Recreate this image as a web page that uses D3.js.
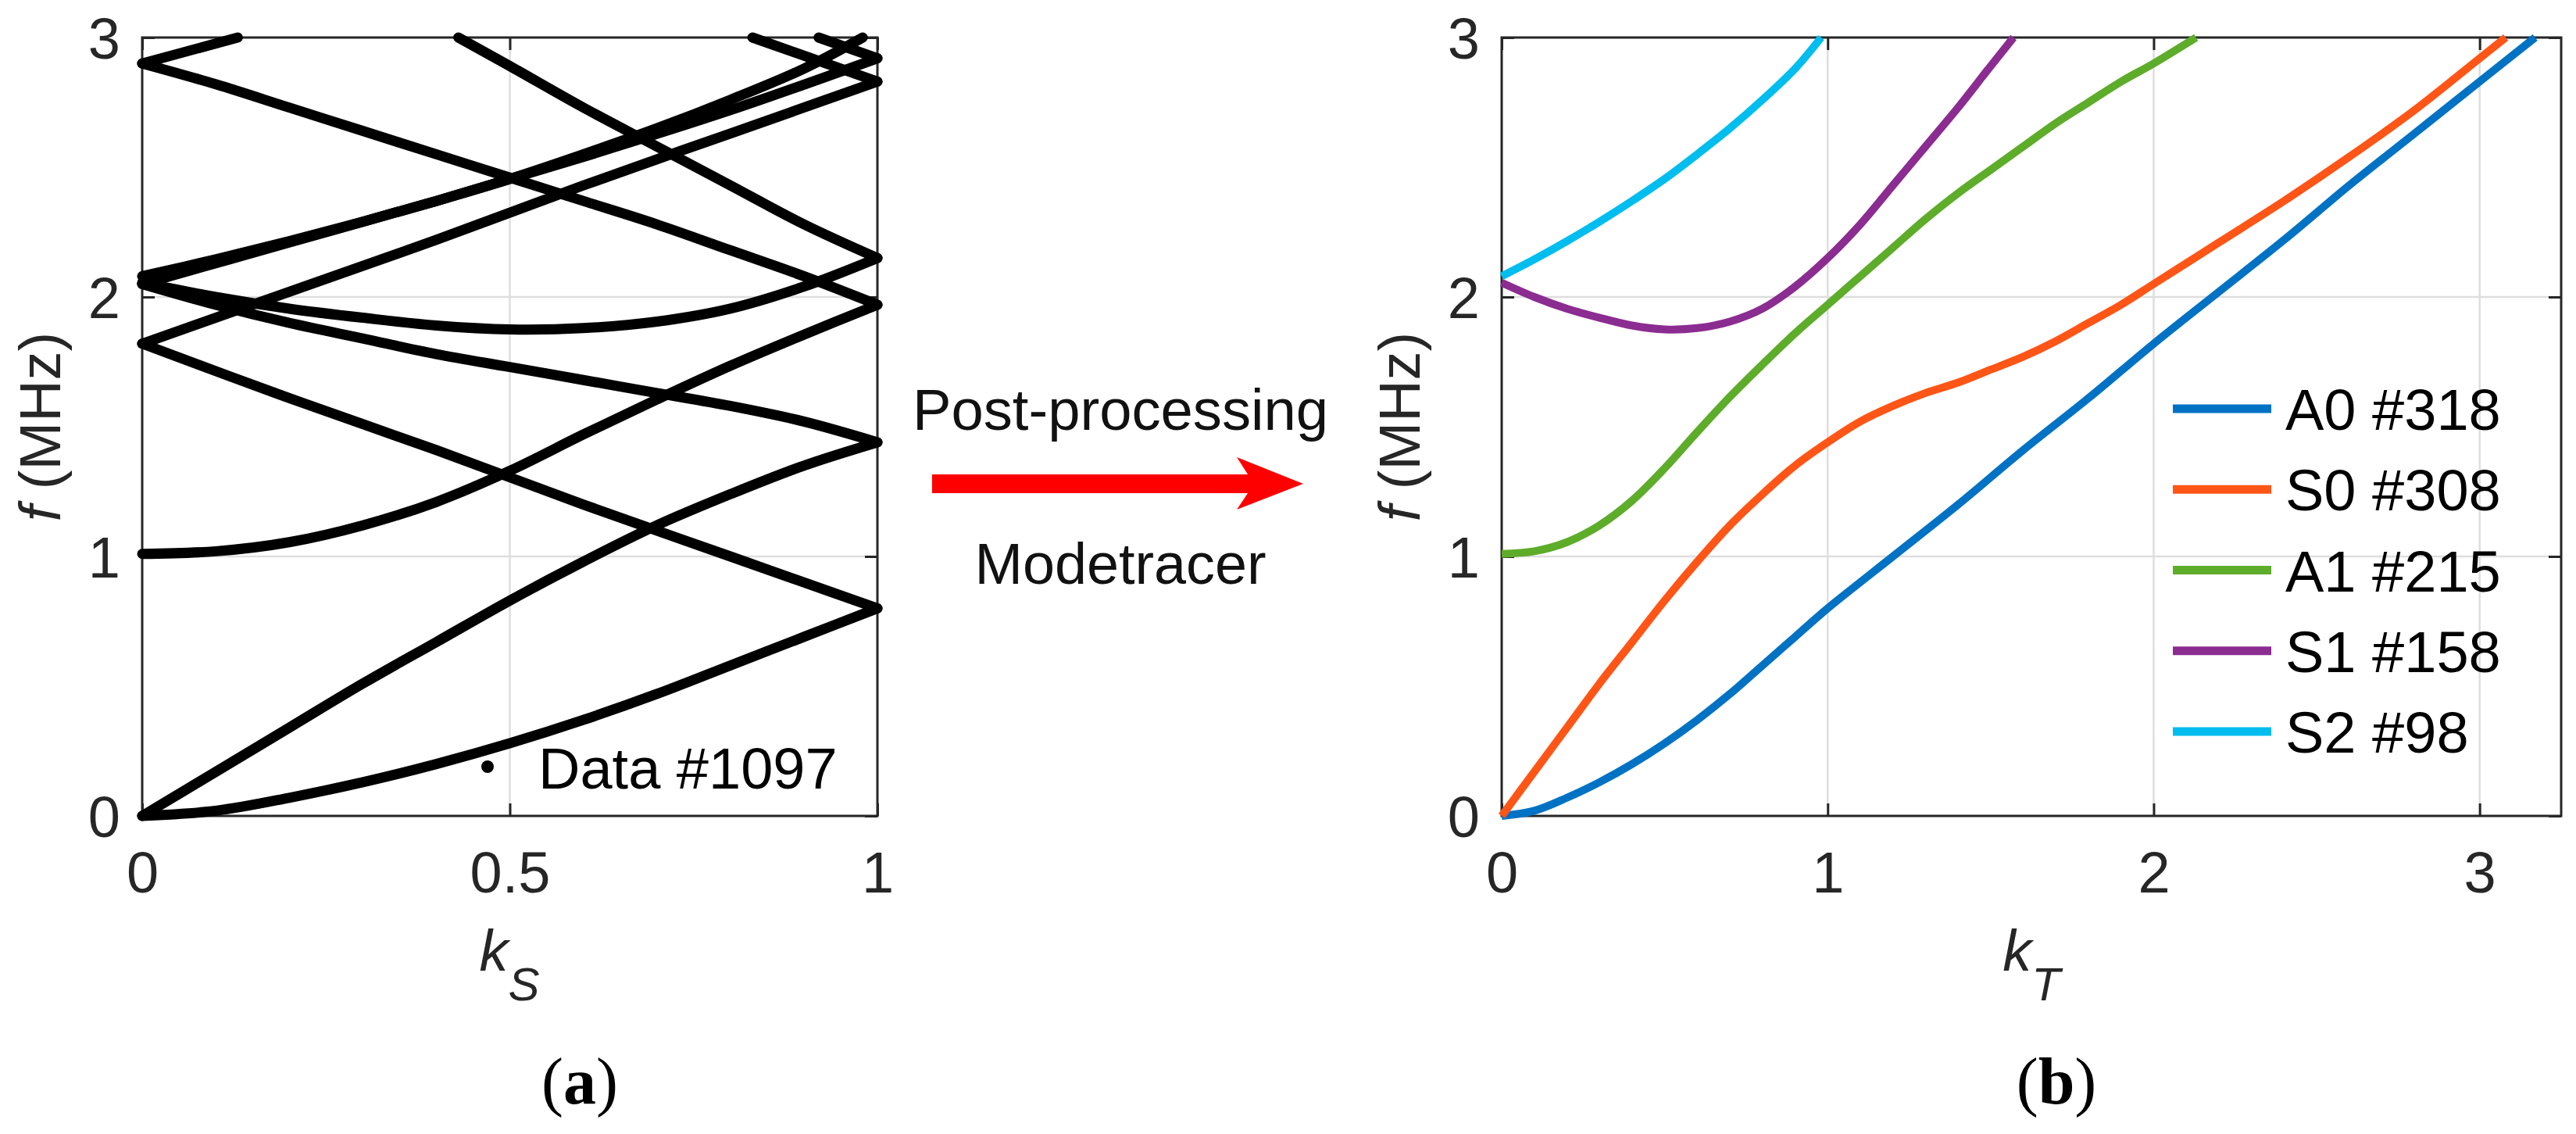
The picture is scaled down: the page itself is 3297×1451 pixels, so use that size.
<!DOCTYPE html>
<html>
<head>
<meta charset="utf-8">
<script src="https://cdn.jsdelivr.net/npm/d3@7"></script>
<style>
  html, body { margin: 0; padding: 0; background: #ffffff; }
  svg { display: block; }
</style>
</head>
<body>
<svg id="chart" width="3297" height="1451"></svg>
<script>
// ---------------- DATA ----------------
// (b) traced modes: wavenumber k_T and frequency f (MHz)
const kA0 = [0, 0.1, 0.2, 0.3, 0.4, 0.5, 0.6, 0.7, 0.8, 0.9, 1.0, 1.2, 1.4, 1.6, 1.8, 2.0, 2.2, 2.4, 2.6, 2.8, 3.0, 3.17];
const fA0 = [0, 0.02, 0.07, 0.13, 0.20, 0.28, 0.37, 0.47, 0.58, 0.69, 0.80, 1.00, 1.20, 1.41, 1.61, 1.82, 2.02, 2.22, 2.43, 2.63, 2.83, 3.0];
const kS0 = [0, 0.1, 0.2, 0.3, 0.4, 0.5, 0.6, 0.7, 0.8, 0.9, 1.0, 1.1, 1.2, 1.3, 1.4, 1.5, 1.6, 1.7, 1.8, 1.9, 2.0, 2.2, 2.4, 2.6, 2.8, 3.0, 3.08];
const fS0 = [0, 0.17, 0.34, 0.51, 0.67, 0.83, 0.98, 1.12, 1.24, 1.35, 1.44, 1.52, 1.58, 1.63, 1.67, 1.72, 1.77, 1.83, 1.90, 1.97, 2.05, 2.21, 2.37, 2.54, 2.72, 2.92, 3.0];
const kA1 = [0, 0.1, 0.2, 0.3, 0.4, 0.5, 0.6, 0.7, 0.8, 0.9, 1.0, 1.1, 1.2, 1.3, 1.4, 1.5, 1.6, 1.7, 1.8, 1.9, 2.0, 2.13];
const fA1 = [1.01, 1.02, 1.055, 1.12, 1.215, 1.34, 1.48, 1.615, 1.74, 1.86, 1.97, 2.08, 2.19, 2.30, 2.40, 2.49, 2.58, 2.67, 2.75, 2.83, 2.90, 3.0];
const kS1 = [0, 0.1, 0.2, 0.3, 0.4, 0.5, 0.6, 0.7, 0.8, 0.9, 1.0, 1.1, 1.2, 1.3, 1.4, 1.5, 1.57];
const fS1 = [2.055, 2.00, 1.955, 1.92, 1.89, 1.875, 1.88, 1.905, 1.955, 2.04, 2.15, 2.28, 2.43, 2.58, 2.73, 2.89, 3.0];
const kS2 = [0, 0.1, 0.2, 0.3, 0.4, 0.5, 0.6, 0.7, 0.8, 0.9, 0.98];
const fS2 = [2.08, 2.145, 2.215, 2.29, 2.37, 2.455, 2.55, 2.65, 2.76, 2.88, 3.0];

const modeNames = ["A0 #318", "S0 #308", "A1 #215", "S1 #158", "S2 #98"];
const modeColors = ["#0072c4", "#ff5516", "#5dac2a", "#8b2c91", "#00bdef"];

// (a) raw solver output, k_S in reduced zone, as [k_S, f] pairs per visible branch
const rawA0a = [[0,0],[0.1,0.02],[0.2,0.07],[0.3,0.13],[0.4,0.20],[0.5,0.28],[0.6,0.37],[0.7,0.47],[0.8,0.58],[0.9,0.69],[1,0.80]];
const rawA0b = [[1,0.80],[0.8,1.00],[0.6,1.20],[0.4,1.41],[0.2,1.61],[0,1.82]];
const rawA0c = [[0,1.82],[0.2,2.02],[0.4,2.22],[0.6,2.43],[0.8,2.63],[1,2.83]];
const rawA0d = [[1,2.83],[0.83,3.0]];
const rawS0a = [[0,0],[0.1,0.17],[0.2,0.34],[0.3,0.51],[0.4,0.67],[0.5,0.83],[0.6,0.98],[0.7,1.12],[0.8,1.24],[0.9,1.35],[1,1.44]];
const rawS0b = [[1,1.44],[0.9,1.52],[0.8,1.58],[0.7,1.63],[0.6,1.68],[0.5,1.73],[0.4,1.78],[0.3,1.84],[0.2,1.90],[0.1,1.97],[0,2.05]];
const rawS0c = [[0,2.05],[0.2,2.21],[0.4,2.37],[0.6,2.54],[0.8,2.72],[1,2.92]];
const rawS0d = [[1,2.92],[0.92,3.0]];
const rawA1a = [[0,1.01],[0.1,1.02],[0.2,1.055],[0.3,1.12],[0.4,1.21],[0.5,1.33],[0.6,1.47],[0.7,1.605],[0.8,1.735],[0.9,1.855],[1,1.97]];
const rawA1b = [[1,1.97],[0.9,2.08],[0.8,2.18],[0.7,2.28],[0.6,2.37],[0.5,2.46],[0.4,2.55],[0.3,2.64],[0.2,2.73],[0.1,2.82],[0,2.90]];
const rawA1c = [[0,2.90],[0.13,3.0]];
const rawS1a = [[0,2.055],[0.1,2.00],[0.2,1.955],[0.3,1.92],[0.4,1.89],[0.5,1.875],[0.6,1.88],[0.7,1.905],[0.8,1.955],[0.9,2.04],[1,2.15]];
const rawS1b = [[1,2.15],[0.9,2.28],[0.8,2.43],[0.7,2.58],[0.6,2.73],[0.5,2.89],[0.43,3.0]];
const rawS2a = [[0,2.08],[0.1,2.145],[0.2,2.215],[0.3,2.29],[0.4,2.37],[0.5,2.455],[0.6,2.55],[0.7,2.65],[0.8,2.76],[0.9,2.88],[0.98,3.0]];
const rawBranches = [rawA0a, rawA0b, rawA0c, rawA0d, rawS0a, rawS0b, rawS0c, rawS0d,
                     rawA1a, rawA1b, rawA1c, rawS1a, rawS1b, rawS2a];
const rawLegend = "Data #1097";

// axes / ticks
const fTicks = [0, 1, 2, 3];
const fTickLabels = ["0", "1", "2", "3"];
const kSTicks = [0, 0.5, 1];
const kSTickLabels = ["0", "0.5", "1"];
const kTTicks = [0, 1, 2, 3];
const kTTickLabels = ["0", "1", "2", "3"];
const fDomain = [0, 3];
const kSDomain = [0, 1];
const kTDomain = [0, 3.25];

// ---------------- DRAWING ----------------
const FONT = '"Liberation Sans", Arial, Helvetica, sans-serif';
const FS = 74;
const INK = "#262626";
const svg = d3.select("#chart");
svg.append("rect").attr("width", 3297).attr("height", 1451).attr("fill", "#ffffff");

const TOP = 48, BOTTOM = 1044;

function makePanel(left, right, xDomain, xTicks, xLabels) {
  const x = d3.scaleLinear().domain(xDomain).range([left, right]);
  const y = d3.scaleLinear().domain(fDomain).range([BOTTOM, TOP]);
  const g = svg.append("g");
  const grid = g.append("g");
  grid.selectAll("line.gx")
    .data(xTicks.filter(v => v > xDomain[0] && v < xDomain[1]))
    .join("line").attr("class", "gx")
    .attr("x1", d => x(d)).attr("x2", d => x(d))
    .attr("y1", y(fDomain[0])).attr("y2", y(fDomain[1]))
    .attr("stroke", "#dedede").attr("stroke-width", 2.5);
  grid.selectAll("line.gy")
    .data(fTicks.filter(v => v > fDomain[0] && v < fDomain[1]))
    .join("line").attr("class", "gy")
    .attr("x1", x(xDomain[0])).attr("x2", x(xDomain[1]))
    .attr("y1", d => y(d)).attr("y2", d => y(d))
    .attr("stroke", "#dedede").attr("stroke-width", 2.5);

  const TK = 16;
  const axB = g.append("g").attr("transform", `translate(0,${BOTTOM})`)
    .call(d3.axisBottom(x).tickValues(xTicks).tickSizeInner(-TK).tickSizeOuter(0)
      .tickFormat((d, i) => xLabels[i]));
  axB.selectAll("text").attr("y", 98).attr("dy", 0);
  const axT = g.append("g").attr("transform", `translate(0,${TOP})`)
    .call(d3.axisTop(x).tickValues(xTicks).tickSizeInner(-TK).tickSizeOuter(0).tickFormat(""));
  const axL = g.append("g").attr("transform", `translate(${left},0)`)
    .call(d3.axisLeft(y).tickValues(fTicks).tickSizeInner(-TK).tickSizeOuter(0)
      .tickFormat((d, i) => fTickLabels[i]));
  axL.selectAll("text").attr("x", -28).attr("dy", "0.36em");
  const axR = g.append("g").attr("transform", `translate(${right},0)`)
    .call(d3.axisRight(y).tickValues(fTicks).tickSizeInner(-TK).tickSizeOuter(0).tickFormat(""));
  [axB, axT, axL, axR].forEach(a => {
    a.select(".domain").remove();
    a.selectAll("line").attr("stroke", INK).attr("stroke-width", 3);
    a.selectAll("text").attr("font-family", FONT).attr("font-size", FS).attr("fill", INK);
  });
  g.append("rect")
    .attr("x", left).attr("y", TOP).attr("width", right - left).attr("height", BOTTOM - TOP)
    .attr("fill", "none").attr("stroke", INK).attr("stroke-width", 3);

  // y label
  const yl = g.append("text")
    .attr("transform", `translate(${left - 105},${(TOP + BOTTOM) / 2}) rotate(-90)`)
    .attr("text-anchor", "middle")
    .attr("font-family", FONT).attr("font-size", FS).attr("fill", INK);
  yl.append("tspan").attr("font-style", "italic").text("f");
  yl.append("tspan").text(" (MHz)");
  return { x, y, g };
}

function xLabel(g, cx, sub) {
  const t = g.append("text")
    .attr("x", cx).attr("y", 1242)
    .attr("text-anchor", "middle")
    .attr("font-family", FONT).attr("font-size", FS).attr("fill", INK)
    .attr("font-style", "italic");
  t.append("tspan").text("k");
  t.append("tspan").attr("font-size", 60).attr("dy", 38).text(sub);
}

// ----- panel (a) -----
const pa = makePanel(182, 1123, kSDomain, kSTicks, kSTickLabels);
xLabel(pa.g, 652, "S");
const rawLine = d3.line().x(d => pa.x(d[0])).y(d => pa.y(d[1])).curve(d3.curveCatmullRom.alpha(0.5));
pa.g.append("g").selectAll("path").data(rawBranches).join("path")
  .attr("d", rawLine)
  .attr("fill", "none").attr("stroke", "#000").attr("stroke-width", 13)
  .attr("stroke-linecap", "round").attr("stroke-linejoin", "round");
// legend (a)
pa.g.append("circle").attr("cx", 624).attr("cy", 981).attr("r", 8).attr("fill", "#000");
pa.g.append("text").attr("x", 689).attr("y", 1009)
  .attr("font-family", FONT).attr("font-size", FS).attr("fill", "#000").text(rawLegend);

// ----- panel (b) -----
const pb = makePanel(1922, 3278, kTDomain, kTTicks, kTTickLabels);
xLabel(pb.g, 2600, "T");
const modes = [
  d3.zip(kA0, fA0), d3.zip(kS0, fS0), d3.zip(kA1, fA1), d3.zip(kS1, fS1), d3.zip(kS2, fS2)
];
const modeLine = d3.line().x(d => pb.x(d[0])).y(d => pb.y(d[1])).curve(d3.curveCatmullRom.alpha(0.5));
pb.g.append("g").selectAll("path").data(modes).join("path")
  .attr("d", modeLine)
  .attr("fill", "none").attr("stroke", (d, i) => modeColors[i]).attr("stroke-width", 10)
  .attr("stroke-linejoin", "round");
// legend (b)
const legY = d3.scaleLinear().domain([0, 4]).range([523, 936]);
const leg = pb.g.append("g").selectAll("g").data(modeNames).join("g")
  .attr("transform", (d, i) => `translate(0,${legY(i)})`);
leg.append("line").attr("x1", 2781).attr("x2", 2907).attr("y1", 0).attr("y2", 0)
  .attr("stroke", (d, i) => modeColors[i]).attr("stroke-width", 11);
leg.append("text").attr("x", 2925).attr("y", 27)
  .attr("font-family", FONT).attr("font-size", FS).attr("fill", "#000").text(d => d);

// ----- middle annotation -----
svg.append("text").attr("x", 1434).attr("y", 550).attr("text-anchor", "middle")
  .attr("font-family", FONT).attr("font-size", FS).attr("fill", "#111")
  .attr("textLength", 532).attr("lengthAdjust", "spacingAndGlyphs")
  .text("Post-processing");
svg.append("text").attr("x", 1434).attr("y", 747).attr("text-anchor", "middle")
  .attr("font-family", FONT).attr("font-size", FS).attr("fill", "#111")
  .attr("textLength", 373).attr("lengthAdjust", "spacingAndGlyphs")
  .text("Modetracer");
const ap = d3.path();
ap.moveTo(1193, 607); ap.lineTo(1597, 607); ap.lineTo(1583, 585); ap.lineTo(1668, 619);
ap.lineTo(1583, 652); ap.lineTo(1597, 631); ap.lineTo(1193, 631); ap.closePath();
svg.append("path").attr("d", ap.toString()).attr("fill", "#ff0000");

// ----- subfigure captions -----
function caption(cx, letter) {
  const t = svg.append("text").attr("x", cx).attr("y", 1412).attr("text-anchor", "middle")
    .attr("font-family", '"Liberation Serif", "Times New Roman", serif').attr("font-size", 84).attr("fill", "#000");
  t.append("tspan").text("(");
  t.append("tspan").attr("font-weight", "bold").text(letter);
  t.append("tspan").text(")");
}
caption(742, "a");
caption(2632, "b");
</script>
</body>
</html>
